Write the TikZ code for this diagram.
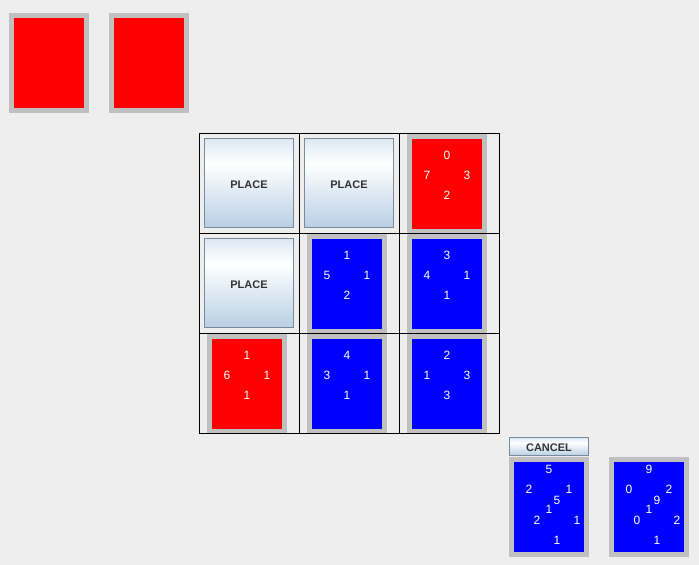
\documentclass[tikz,border=0pt]{standalone}
\usepackage{fontspec}
\setmainfont{Liberation Sans}
\definecolor{bg}{HTML}{EEEEEE}
\definecolor{cardedge}{HTML}{C0C0C0}
\definecolor{btnedge}{HTML}{7A8A99}
\definecolor{btntop}{HTML}{DDE8F3}
\definecolor{btnlow}{HTML}{B8CFE5}
\definecolor{btntext}{HTML}{333333}
\pgfdeclareverticalshading{btnshade}{100bp}{color(0bp)=(btnlow); color(25bp)=(btnlow); color(61bp)=(white); color(75bp)=(btntop); color(100bp)=(btntop)}
\tikzset{
  card/.style={draw=cardedge, line width=5pt, fill=#1, minimum width=75pt, minimum height=95pt, inner sep=0pt},
  num/.style={text=white, font=\fontsize{12}{14}\selectfont, inner sep=0pt, yshift=-1pt},
  button/.style={draw=btnedge, line width=1pt, shading=btnshade, inner sep=0pt, text height=10pt, text depth=0pt, text=btntext, font=\fontsize{11}{13}\selectfont\bfseries},
}
% four values of a card: name, suffix, dx, dy, top, left, right, bottom
\newcommand{\cardnums}[8]{%
  \node[num] (#1-t#2) at ([shift={(#3,#4-29)}]#1.center) {#5};
  \node[num] (#1-l#2) at ([shift={(#3-20,#4-9)}]#1.center) {#6};
  \node[num] (#1-r#2) at ([shift={(#3+20,#4-9)}]#1.center) {#7};
  \node[num] (#1-b#2) at ([shift={(#3,#4+11)}]#1.center) {#8};
}
\begin{document}
\begin{tikzpicture}[x=1pt, y=-1pt]
  \fill[bg] (0,0) rectangle (699,565);
  % hand
  \node[card=red] (hand1) at (49,63) {};
  \node[card=red] (hand2) at (149,63) {};
  % board
  \node[button, minimum width=89pt, minimum height=89pt] (place11) at (249,183) {PLACE};
  \node[button, minimum width=89pt, minimum height=89pt] (place12) at (349,183) {PLACE};
  \node[button, minimum width=89pt, minimum height=89pt] (place21) at (249,283) {PLACE};
  \node[card=red] (c13) at (447,183.5) {};
  \node[card=blue] (c22) at (347,283.5) {};
  \node[card=blue] (c23) at (447,283.5) {};
  \node[card=red] (c31) at (247,383.5) {};
  \node[card=blue] (c32) at (347,383.5) {};
  \node[card=blue] (c33) at (447,383.5) {};
  \cardnums{c13}{}{0}{0}{0}{7}{3}{2}
  \cardnums{c22}{}{0}{0}{1}{5}{1}{2}
  \cardnums{c23}{}{0}{0}{3}{4}{1}{1}
  \cardnums{c31}{}{0}{0}{1}{6}{1}{1}
  \cardnums{c32}{}{0}{0}{4}{3}{1}{1}
  \cardnums{c33}{}{0}{0}{2}{1}{3}{3}
  \draw[line width=1pt] (199.5,133.5) rectangle (499.5,433.5);
  \draw[line width=1pt] (299.5,133.5) -- (299.5,433.5);
  \draw[line width=1pt] (399.5,133.5) -- (399.5,433.5);
  \draw[line width=1pt] (199.5,233.5) -- (499.5,233.5);
  \draw[line width=1pt] (199.5,333.5) -- (499.5,333.5);
  % opponent
  \node[button, minimum width=79pt, minimum height=18pt] (cancel) at (549,446.5) {CANCEL};
  \node[card=blue] (opp1) at (549,507) {};
  \node[card=blue] (opp2) at (649,507) {};
  \cardnums{opp1}{a}{0}{-10}{5}{2}{1}{1}
  \cardnums{opp1}{b}{8}{21}{5}{2}{1}{1}
  \cardnums{opp2}{a}{0}{-10}{9}{0}{2}{1}
  \cardnums{opp2}{b}{8}{21}{9}{0}{2}{1}
\end{tikzpicture}
\end{document}
